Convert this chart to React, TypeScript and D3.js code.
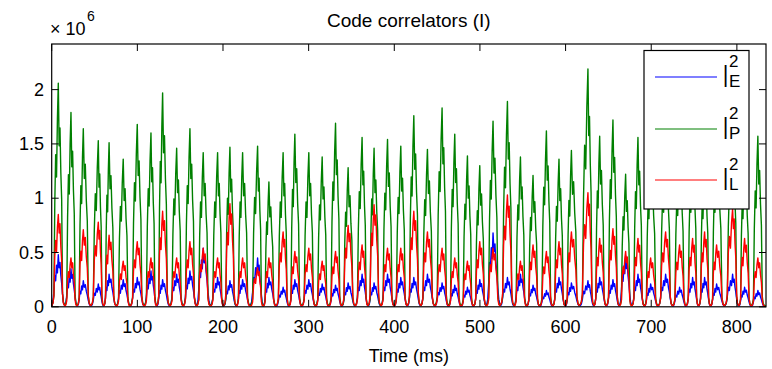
import React from 'react';
import * as d3 from 'd3';

// Time (ms) of each correlation peak
const peakTimes = [7.7, 22.5, 36.9, 54.4, 67.0, 83.5, 99.9, 115.9, 129.5, 145.9,
  161.4, 176.9, 193.7, 208.1, 222.9, 240.4, 253.6, 270.2, 283.9, 300.2,
  315.8, 331.4, 346.1, 362.4, 376.4, 392.1, 407.6, 422.8, 438.7, 455.8,
  470.6, 485.4, 499.8, 515.3, 532.1, 547.3, 562.0, 577.6, 592.3, 606.8,
  626.1, 639.8, 655.3, 670.1, 684.5, 699.3, 716.8, 733.1, 748.3, 762.3,
  776.3, 795.0, 809.0, 824.5];

// Peak values (x 10^6)
const promptPeaks = [2.06, 1.79, 1.64, 1.53, 1.51, 1.36, 1.68, 1.60, 1.97, 1.46,
  1.64, 1.42, 1.42, 1.47, 1.42, 1.48, 1.15, 1.42, 1.59, 1.42,
  1.38, 1.69, 1.28, 1.56, 1.46, 1.54, 1.48, 1.76, 1.45, 1.83,
  1.59, 1.39, 1.30, 1.71, 1.89, 1.38, 1.21, 1.62, 1.36, 1.44,
  2.19, 1.57, 1.72, 1.22, 1.56, 1.40, 1.50, 1.45, 1.50, 1.40,
  1.50, 1.60, 1.40, 1.57];

const latePeaks = [0.85, 0.45, 0.71, 0.78, 0.66, 0.42, 0.60, 0.45, 0.88, 0.45,
  0.60, 0.54, 0.45, 0.95, 0.45, 0.36, 0.45, 0.69, 0.51, 0.54,
  0.42, 0.51, 0.75, 0.57, 0.94, 0.54, 0.54, 0.88, 0.69, 0.54,
  0.45, 0.42, 0.60, 0.54, 1.03, 0.42, 0.57, 0.51, 0.60, 0.69,
  1.05, 0.63, 0.72, 0.51, 0.63, 0.45, 0.69, 0.57, 0.63, 0.69,
  0.57, 0.90, 0.63, 0.45];

const earlyPeaks = [0.48, 0.35, 0.24, 0.21, 0.30, 0.25, 0.27, 0.33, 0.25, 0.30,
  0.33, 0.54, 0.27, 0.24, 0.25, 0.45, 0.27, 0.18, 0.25, 0.25,
  0.21, 0.20, 0.22, 0.30, 0.22, 0.30, 0.27, 0.27, 0.30, 0.22,
  0.20, 0.18, 0.25, 0.68, 0.27, 0.30, 0.20, 0.15, 0.27, 0.22,
  0.24, 0.27, 0.25, 0.47, 0.30, 0.21, 0.30, 0.18, 0.27, 0.27,
  0.21, 0.30, 0.18, 0.15];

// Fraction of the peak at the 1 ms samples from 7 ms before to 7 ms after each peak
const promptShape = [0.01, 0.02, 0.05, 0.46, 0.68, 0.58, 0.84, 1.0, 0.72, 0.8, 0.6, 0.48, 0.06, 0.02, 0.01];
const lateShape = [0.02, 0.04, 0.12, 0.55, 0.72, 0.6, 0.86, 1.0, 0.8, 0.9, 0.65, 0.5, 0.14, 0.04, 0.02];
const earlyShape = [0.04, 0.1, 0.3, 0.6, 0.5, 0.8, 0.65, 1.0, 0.75, 0.85, 0.6, 0.45, 0.25, 0.1, 0.04];

const xTicks = [0, 100, 200, 300, 400, 500, 600, 700, 800];
const yTicks = [0, 0.5, 1, 1.5, 2];
const yTickLabels = ['0', '0.5', '1', '1.5', '2'];
const legendSubs = ['E', 'P', 'L'];
const colors = ['#0000ff', '#008000', '#ff0000'];

const X_MAX = 834;
const Y_MAX = 2.42;

function buildSeries(peaks: number[], shape: number[]): [number, number][] {
  const pts: [number, number][] = [[0, 0]];
  const n = peakTimes.length;
  peakTimes.forEach((tp, i) => {
    const hl = i > 0 ? (tp - peakTimes[i - 1]) / 2 : Math.min(tp, 7.75);
    const hr = i < n - 1 ? (peakTimes[i + 1] - tp) / 2 : 7.75;
    shape.forEach((s, k) => {
      const off = k - 7;
      const t = tp + (off / 7.5) * (off < 0 ? hl : hr);
      pts.push([t, peaks[i] * s]);
    });
  });
  pts.push([X_MAX, 0]);
  return pts;
}

export default function App() {
  const L = 51.7, R = 766, T = 44, B = 306.8;
  const x = d3.scaleLinear().domain([0, X_MAX]).range([L, R]);
  const y = d3.scaleLinear().domain([0, Y_MAX]).range([B, T]);
  const line = d3.line<[number, number]>().x(d => x(d[0])).y(d => y(d[1]));
  const series = [
    buildSeries(earlyPeaks, earlyShape),
    buildSeries(promptPeaks, promptShape),
    buildSeries(latePeaks, lateShape),
  ];
  const font = "'Liberation Sans', Arial, Helvetica, sans-serif";
  const legendY = [77, 129, 180];

  return (
    <svg width={772} height={369} style={{ position: 'absolute', left: 0, top: 0, background: '#fff' }}
      fontFamily={font}>
      <rect x={0} y={0} width={772} height={369} fill="#fff" />
      <defs>
        <clipPath id="plotclip">
          <rect x={L} y={T} width={R - L} height={B - T} />
        </clipPath>
      </defs>
      <g clipPath="url(#plotclip)">
        {series.map((s, i) => (
          <path key={i} d={line(s) || ''} fill="none" stroke={colors[i]} strokeWidth={1.4}
            strokeLinejoin="round" />
        ))}
      </g>
      <rect x={L} y={T} width={R - L} height={B - T} fill="none" stroke="#000" strokeWidth={1.2} />
      {xTicks.map(t => (
        <g key={t}>
          <line x1={x(t)} x2={x(t)} y1={B} y2={B - 7} stroke="#000" />
          <line x1={x(t)} x2={x(t)} y1={T} y2={T + 7} stroke="#000" />
          <text x={x(t)} y={333} fontSize={18} textAnchor="middle">{t}</text>
        </g>
      ))}
      {yTicks.map((t, i) => (
        <g key={t}>
          <line x1={L} x2={L + 7} y1={y(t)} y2={y(t)} stroke="#000" />
          <line x1={R} x2={R - 7} y1={y(t)} y2={y(t)} stroke="#000" />
          <text x={44} y={y(t) + 6} fontSize={18} textAnchor="end">{yTickLabels[i]}</text>
        </g>
      ))}
      <text x={50} y={35} fontSize={18}>× 10</text>
      <text x={87} y={21} fontSize={14}>6</text>
      <text x={(L + R) / 2} y={27} fontSize={19} textAnchor="middle">Code correlators (I)</text>
      <text x={(L + R) / 2} y={362} fontSize={18} textAnchor="middle">Time (ms)</text>
      <rect x={644} y={50.5} width={105} height={158.5} fill="#fff" stroke="#000" strokeWidth={1.2} />
      {legendSubs.map((s, i) => (
        <g key={s}>
          <line x1={655} x2={717} y1={legendY[i]} y2={legendY[i]} stroke={colors[i]} strokeWidth={1.2} />
          <text transform={`translate(723, ${legendY[i] + 10}) scale(0.6, 1)`} fontSize={31}>I</text>
          <text x={729} y={legendY[i] - 10} fontSize={17}>2</text>
          <text x={729} y={legendY[i] + 10} fontSize={17}>{s}</text>
        </g>
      ))}
    </svg>
  );
}
